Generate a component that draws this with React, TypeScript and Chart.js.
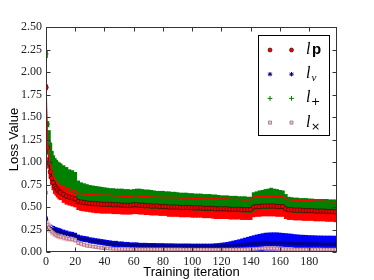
import React, { useEffect, useRef } from 'react';
import { Chart, registerables } from 'chart.js';
import { drawPoint } from 'chart.js/helpers';

Chart.register(...registerables);

const iterations = [
  0, 1, 2, 3, 4, 5, 6, 7, 8, 9,
  10, 12, 14, 16, 18, 20, 22, 24, 26, 28,
  30, 32, 34, 36, 38, 40, 42, 44, 46, 48,
  50, 52, 54, 56, 58, 60, 62, 64, 66, 68,
  70, 72, 74, 76, 78, 80, 82, 84, 86, 88,
  90, 92, 94, 96, 98, 100, 102, 104, 106, 108,
  110, 112, 114, 116, 118, 120, 122, 124, 126, 128,
  130, 132, 134, 136, 138, 140, 142, 144, 146, 148,
  150, 152, 154, 156, 158, 160, 162, 164, 166, 168,
  170, 172, 174, 176, 178, 180, 182, 184, 186, 188,
  190, 192, 194, 196, 198,
];

const xTicks = [0, 20, 40, 60, 80, 100, 120, 140, 160, 180];
const yTicks = [0, 0.25, 0.5, 0.75, 1.0, 1.25, 1.5, 1.75, 2.0, 2.25, 2.5];

// l_p (red)
const lpMean = [
  1.83, 1.16, 0.99, 0.89, 0.82, 0.77, 0.73, 0.71, 0.69, 0.67,
  0.66, 0.64, 0.62, 0.61, 0.60, 0.59, 0.56, 0.555, 0.55, 0.545,
  0.54, 0.54, 0.535, 0.535, 0.53, 0.53, 0.53, 0.53, 0.525, 0.525,
  0.525, 0.52, 0.52, 0.52, 0.52, 0.525, 0.525, 0.52, 0.52, 0.515,
  0.515, 0.51, 0.51, 0.51, 0.505, 0.505, 0.505, 0.50, 0.50, 0.50,
  0.50, 0.495, 0.495, 0.495, 0.495, 0.49, 0.49, 0.49, 0.49, 0.485,
  0.485, 0.485, 0.485, 0.48, 0.48, 0.48, 0.48, 0.48, 0.475, 0.475,
  0.475, 0.475, 0.47, 0.47, 0.47, 0.47, 0.50, 0.505, 0.505, 0.51,
  0.51, 0.51, 0.51, 0.51, 0.505, 0.505, 0.505, 0.48, 0.47, 0.47,
  0.465, 0.465, 0.465, 0.46, 0.46, 0.46, 0.46, 0.455, 0.455, 0.455,
  0.455, 0.45, 0.45, 0.45, 0.445,
];
const lpErr = [
  0.03, 0.04, 0.06, 0.07, 0.07, 0.08, 0.08, 0.08, 0.08, 0.08,
  0.08, 0.09, 0.09, 0.09, 0.09, 0.09, 0.09, 0.095, 0.095, 0.095,
  0.095, 0.1, 0.1, 0.1, 0.1, 0.1, 0.1, 0.1, 0.1, 0.1,
  0.1, 0.1, 0.1, 0.1, 0.1, 0.1, 0.1, 0.1, 0.1, 0.1,
  0.1, 0.1, 0.1, 0.1, 0.1, 0.1, 0.1, 0.105, 0.105, 0.105,
  0.105, 0.105, 0.105, 0.105, 0.105, 0.105, 0.105, 0.105, 0.105, 0.105,
  0.105, 0.105, 0.11, 0.11, 0.11, 0.11, 0.11, 0.11, 0.11, 0.11,
  0.11, 0.11, 0.11, 0.11, 0.11, 0.11, 0.11, 0.11, 0.11, 0.11,
  0.11, 0.11, 0.11, 0.11, 0.11, 0.11, 0.11, 0.11, 0.11, 0.11,
  0.11, 0.11, 0.11, 0.11, 0.11, 0.11, 0.11, 0.11, 0.11, 0.11,
  0.11, 0.11, 0.11, 0.11, 0.11,
];

// l_v (blue)
const lvMean = [
  0.36, 0.28, 0.27, 0.26, 0.25, 0.245, 0.24, 0.235, 0.23, 0.225,
  0.22, 0.21, 0.2, 0.195, 0.19, 0.18, 0.16, 0.15, 0.145, 0.14,
  0.13, 0.125, 0.12, 0.115, 0.11, 0.105, 0.1, 0.095, 0.09, 0.09,
  0.085, 0.085, 0.08, 0.08, 0.075, 0.075, 0.075, 0.07, 0.07, 0.07,
  0.07, 0.07, 0.07, 0.068, 0.068, 0.068, 0.066, 0.066, 0.066, 0.065,
  0.065, 0.065, 0.065, 0.065, 0.065, 0.064, 0.064, 0.064, 0.064, 0.064,
  0.064, 0.064, 0.064, 0.065, 0.065, 0.066, 0.067, 0.068, 0.07, 0.072,
  0.074, 0.077, 0.08, 0.083, 0.086, 0.089, 0.092, 0.095, 0.097, 0.099,
  0.1, 0.1, 0.1, 0.1, 0.1, 0.099, 0.098, 0.097, 0.096, 0.095,
  0.094, 0.093, 0.092, 0.092, 0.091, 0.09, 0.09, 0.09, 0.089, 0.089,
  0.088, 0.088, 0.088, 0.087, 0.087,
];
const lvErr = [
  0.03, 0.05, 0.04, 0.04, 0.04, 0.04, 0.035, 0.035, 0.035, 0.035,
  0.035, 0.035, 0.035, 0.03, 0.03, 0.03, 0.03, 0.03, 0.03, 0.03,
  0.03, 0.03, 0.03, 0.03, 0.03, 0.03, 0.03, 0.03, 0.03, 0.03,
  0.028, 0.028, 0.028, 0.028, 0.028, 0.028, 0.028, 0.028, 0.028, 0.028,
  0.026, 0.026, 0.026, 0.026, 0.026, 0.026, 0.026, 0.026, 0.026, 0.026,
  0.025, 0.025, 0.025, 0.025, 0.025, 0.025, 0.025, 0.025, 0.025, 0.025,
  0.025, 0.025, 0.026, 0.028, 0.03, 0.033, 0.036, 0.04, 0.045, 0.05,
  0.055, 0.06, 0.066, 0.072, 0.078, 0.084, 0.09, 0.095, 0.1, 0.105,
  0.11, 0.112, 0.114, 0.114, 0.114, 0.112, 0.11, 0.108, 0.106, 0.104,
  0.1, 0.098, 0.096, 0.095, 0.094, 0.093, 0.092, 0.091, 0.09, 0.09,
  0.09, 0.09, 0.09, 0.09, 0.09,
];

// l_+ (green)
const lplusMean = [
  2.2, 1.42, 1.22, 1.08, 1.0, 0.95, 0.92, 0.9, 0.88, 0.87,
  0.86, 0.84, 0.82, 0.8, 0.79, 0.77, 0.69, 0.67, 0.66, 0.65,
  0.64, 0.635, 0.63, 0.625, 0.62, 0.615, 0.61, 0.605, 0.605, 0.6,
  0.6, 0.6, 0.595, 0.595, 0.59, 0.595, 0.6, 0.6, 0.595, 0.59,
  0.59, 0.585, 0.585, 0.58, 0.58, 0.58, 0.575, 0.575, 0.57, 0.57,
  0.57, 0.565, 0.565, 0.565, 0.56, 0.56, 0.555, 0.555, 0.555, 0.55,
  0.55, 0.55, 0.545, 0.545, 0.545, 0.54, 0.54, 0.54, 0.535, 0.535,
  0.535, 0.53, 0.53, 0.53, 0.525, 0.525, 0.56, 0.57, 0.575, 0.58,
  0.585, 0.59, 0.6, 0.595, 0.59, 0.585, 0.58, 0.55, 0.53, 0.525,
  0.52, 0.52, 0.515, 0.515, 0.515, 0.515, 0.515, 0.51, 0.51, 0.51,
  0.51, 0.51, 0.505, 0.505, 0.505,
];
const lplusErr = [
  0.04, 0.03, 0.13, 0.13, 0.12, 0.12, 0.12, 0.12, 0.12, 0.12,
  0.12, 0.12, 0.12, 0.115, 0.115, 0.115, 0.1, 0.1, 0.1, 0.1,
  0.1, 0.1, 0.1, 0.1, 0.1, 0.1, 0.1, 0.1, 0.1, 0.1,
  0.1, 0.1, 0.1, 0.1, 0.1, 0.1, 0.1, 0.1, 0.1, 0.1,
  0.1, 0.1, 0.095, 0.095, 0.095, 0.095, 0.095, 0.095, 0.095, 0.095,
  0.09, 0.09, 0.09, 0.09, 0.09, 0.09, 0.09, 0.09, 0.09, 0.09,
  0.09, 0.09, 0.09, 0.09, 0.085, 0.085, 0.085, 0.085, 0.085, 0.085,
  0.085, 0.085, 0.085, 0.085, 0.085, 0.085, 0.1, 0.1, 0.105, 0.105,
  0.11, 0.11, 0.11, 0.105, 0.105, 0.1, 0.1, 0.09, 0.08, 0.08,
  0.08, 0.08, 0.08, 0.08, 0.08, 0.075, 0.075, 0.075, 0.075, 0.075,
  0.075, 0.075, 0.075, 0.075, 0.075,
];

// l_x (pink)
const lxMean = [
  0.66, 0.3, 0.27, 0.25, 0.23, 0.215, 0.2, 0.19, 0.18, 0.175,
  0.17, 0.16, 0.15, 0.145, 0.14, 0.13, 0.1, 0.09, 0.08, 0.07,
  0.065, 0.06, 0.055, 0.05, 0.045, 0.042, 0.04, 0.038, 0.036, 0.035,
  0.034, 0.033, 0.032, 0.032, 0.031, 0.031, 0.03, 0.03, 0.03, 0.03,
  0.03, 0.03, 0.03, 0.03, 0.03, 0.03, 0.03, 0.03, 0.03, 0.03,
  0.03, 0.03, 0.029, 0.029, 0.029, 0.029, 0.028, 0.028, 0.028, 0.028,
  0.028, 0.028, 0.028, 0.028, 0.028, 0.028, 0.028, 0.028, 0.028, 0.028,
  0.028, 0.028, 0.028, 0.029, 0.03, 0.032, 0.034, 0.036, 0.038, 0.04,
  0.04, 0.04, 0.04, 0.04, 0.038, 0.036, 0.034, 0.032, 0.03, 0.029,
  0.028, 0.028, 0.028, 0.028, 0.028, 0.028, 0.028, 0.028, 0.028, 0.028,
  0.027, 0.027, 0.027, 0.027, 0.027,
];
const lxErr = [
  0.02, 0.05, 0.045, 0.04, 0.04, 0.035, 0.035, 0.03, 0.03, 0.03,
  0.03, 0.03, 0.03, 0.025, 0.025, 0.025, 0.02, 0.02, 0.02, 0.02,
  0.015, 0.015, 0.015, 0.015, 0.015, 0.015, 0.015, 0.015, 0.015, 0.015,
  0.015, 0.015, 0.015, 0.015, 0.015, 0.015, 0.015, 0.015, 0.015, 0.015,
  0.015, 0.015, 0.015, 0.015, 0.015, 0.015, 0.015, 0.015, 0.015, 0.015,
  0.015, 0.015, 0.015, 0.015, 0.015, 0.015, 0.015, 0.015, 0.015, 0.015,
  0.015, 0.015, 0.015, 0.015, 0.015, 0.015, 0.015, 0.015, 0.015, 0.015,
  0.015, 0.015, 0.015, 0.015, 0.015, 0.015, 0.015, 0.015, 0.015, 0.015,
  0.02, 0.02, 0.02, 0.02, 0.02, 0.02, 0.02, 0.02, 0.02, 0.02,
  0.015, 0.015, 0.015, 0.015, 0.015, 0.015, 0.015, 0.015, 0.015, 0.015,
  0.015, 0.015, 0.015, 0.015, 0.015,
];

const RED = '#ff0000';
const GREEN = '#008000';
const BLUE = '#0000ff';
const NAVY = '#000080';
const PINK = '#ffc0cb';
const PINK_EDGE = '#6e5060';

const band = (mean: number[], err: number[]) =>
  iterations.map((x, i) => ({ x, y: [mean[i] - err[i], mean[i] + err[i]] }));
const pts = (vals: number[]) => iterations.map((x, i) => ({ x, y: vals[i] }));
const upper = (mean: number[], err: number[]) =>
  iterations.map((x, i) => ({ x, y: mean[i] + err[i] }));

const legendRows = [
  { style: 'circle', bg: RED, border: '#000', bw: 0.6, r: 2, sub: 'p' },
  { style: 'star', bg: NAVY, border: NAVY, bw: 1, r: 2.2, sub: 'v' },
  { style: 'cross', bg: GREEN, border: GREEN, bw: 1, r: 2.4, sub: '+' },
  { style: 'rect', bg: PINK, border: PINK_EDGE, bw: 0.6, r: 2.2, sub: '\u00d7' },
];

const framePlugin = {
  id: 'mplFrame',
  afterDatasetsDraw(chart: any) {
    const { ctx, chartArea: a, scales } = chart;
    ctx.save();
    ctx.strokeStyle = '#333';
    ctx.lineWidth = 1;
    const L = Math.round(a.left) + 0.5, R = Math.round(a.right) - 0.5;
    const T = Math.round(a.top) + 0.5, B = Math.round(a.bottom) - 0.5;
    ctx.beginPath();
    for (const v of xTicks) {
      const px = Math.round(scales.x.getPixelForValue(v)) + 0.5;
      ctx.moveTo(px, B); ctx.lineTo(px, B - 4);
      ctx.moveTo(px, T); ctx.lineTo(px, T + 4);
    }
    for (const v of yTicks) {
      const py = Math.round(scales.y.getPixelForValue(v)) + 0.5;
      ctx.moveTo(L, py); ctx.lineTo(L + 4, py);
      ctx.moveTo(R, py); ctx.lineTo(R - 4, py);
    }
    ctx.stroke();
    ctx.strokeRect(L, T, R - L, B - T);
    ctx.restore();
  },
};

const legendPlugin = {
  id: 'mplLegend',
  afterDraw(chart: any) {
    const { ctx, chartArea: a } = chart;
    const w = 71, h = 100;
    const x0 = Math.round(a.right - 8 - w), y0 = Math.round(a.top + 8);
    ctx.save();
    ctx.fillStyle = '#fff';
    ctx.fillRect(x0, y0, w, h);
    ctx.strokeStyle = '#000';
    ctx.lineWidth = 1;
    ctx.strokeRect(x0 + 0.5, y0 + 0.5, w, h);
    legendRows.forEach((r, i) => {
      const cy = y0 + 15 + i * 24.2;
      for (const mx of [x0 + 12, x0 + 33.5]) {
        ctx.fillStyle = r.bg;
        ctx.strokeStyle = r.border;
        ctx.lineWidth = r.bw;
        drawPoint(ctx, { pointStyle: r.style, rotation: 0, radius: r.r, borderWidth: r.bw } as any, mx, cy);
      }
      const lx = x0 + 48;
      const base = cy + 4;
      ctx.fillStyle = '#000';
      ctx.textBaseline = 'alphabetic';
      ctx.textAlign = 'left';
      ctx.font = 'italic 16px "Liberation Serif"';
      ctx.fillText('l', lx, base);
      const lw = ctx.measureText('l').width;
      if (i === 0) {
        ctx.font = 'bold 15px "Liberation Sans"';
        ctx.fillText(r.sub, lx + lw + 1.5, base);
      } else if (i === 1) {
        ctx.font = 'italic 11px "Liberation Serif"';
        ctx.fillText(r.sub, lx + lw + 1, base + 3);
      } else {
        ctx.font = '11px "DejaVu Sans"';
        ctx.fillText(r.sub, lx + lw + 0.5, base + 3);
      }
    });
    ctx.restore();
  },
};

export default function App() {
  const ref = useRef<HTMLCanvasElement | null>(null);
  useEffect(() => {
    if (!ref.current) return;
    const chart = new Chart(ref.current, {
      type: 'line',
      data: {
        datasets: [
          {
            type: 'bar', label: 'lp err', data: band(lpMean, lpErr) as any,
            backgroundColor: RED, barThickness: 3, grouped: false, borderWidth: 0, order: 10,
          },
          {
            type: 'bar', label: 'lv err', data: band(lvMean, lvErr) as any,
            backgroundColor: BLUE, barThickness: 3, grouped: false, borderWidth: 0, order: 9,
          },
          {
            type: 'bar', label: 'lx err', data: band(lxMean, lxErr) as any,
            backgroundColor: PINK, barThickness: 3, grouped: false, borderWidth: 0, order: 8,
          },
          {
            type: 'bar', label: 'l+ err', data: band(lplusMean, lplusErr) as any,
            backgroundColor: GREEN, barThickness: 3, grouped: false, borderWidth: 0, order: 7,
          },
          {
            type: 'line', label: 'l+', data: pts(lplusMean) as any, showLine: false,
            pointStyle: 'cross', pointRadius: 2.5, pointBorderColor: GREEN, pointBorderWidth: 1, order: 6,
          },
          {
            type: 'line', label: 'lp', data: pts(lpMean) as any, showLine: true,
            borderColor: '#000', borderWidth: 0.8, pointStyle: 'circle', pointRadius: 2.3,
            pointBackgroundColor: '#ee0000', pointBorderColor: '#000', pointBorderWidth: 0.5, order: 5,
          },
          {
            type: 'line', label: 'lp cap', data: upper(lpMean, lpErr) as any, showLine: true,
            borderColor: RED, borderWidth: 1.4, pointRadius: 0, order: 4,
          },
          {
            type: 'line', label: 'lv', data: pts(lvMean) as any, showLine: false,
            pointStyle: 'star', pointRadius: 2.2, pointBorderColor: NAVY, pointBackgroundColor: NAVY,
            pointBorderWidth: 1, order: 3,
          },
          {
            type: 'line', label: 'lx', data: pts(lxMean) as any, showLine: false,
            pointStyle: 'rect', pointRadius: 2, pointBackgroundColor: PINK, pointBorderColor: PINK_EDGE,
            pointBorderWidth: 0.5, order: 2,
          },
        ],
      },
      options: {
        animation: false,
        responsive: true,
        maintainAspectRatio: false,
        devicePixelRatio: 1,
        events: [],
        layout: { padding: { left: 0, top: 27, right: 37, bottom: 0 } },
        plugins: { legend: { display: false }, tooltip: { enabled: false } },
        scales: {
          x: {
            type: 'linear', min: 0, max: 199, offset: false,
            grid: { display: false, drawTicks: false },
            border: { display: false },
            ticks: {
              stepSize: 20, includeBounds: false, autoSkip: false, maxRotation: 0,
              padding: 3, color: '#222',
              font: { family: '"Liberation Serif"', size: 12 },
            },
            title: {
              display: true, text: 'Training iteration', color: '#000',
              font: { family: '"Liberation Sans"', size: 13 },
              padding: { top: 0, bottom: 0 },
            },
            afterFit: (s: any) => { s.height = 28; },
          },
          y: {
            type: 'linear', min: 0, max: 2.5,
            grid: { display: false, drawTicks: false },
            border: { display: false },
            ticks: {
              stepSize: 0.25, padding: 4, color: '#222',
              font: { family: '"Liberation Serif"', size: 12 },
              callback: (v: any) => Number(v).toFixed(2),
            },
            title: {
              display: true, text: 'Loss Value', color: '#000',
              font: { family: '"Liberation Sans"', size: 13 },
              padding: { top: 7, bottom: 0 },
            },
            afterFit: (s: any) => { s.width = 46; },
          },
        },
      } as any,
      plugins: [framePlugin, legendPlugin],
    });
    return () => chart.destroy();
  }, []);
  return (
    <div style={{ position: 'absolute', left: 0, top: 0, width: 374, height: 280 }}>
      <canvas ref={ref} />
    </div>
  );
}
